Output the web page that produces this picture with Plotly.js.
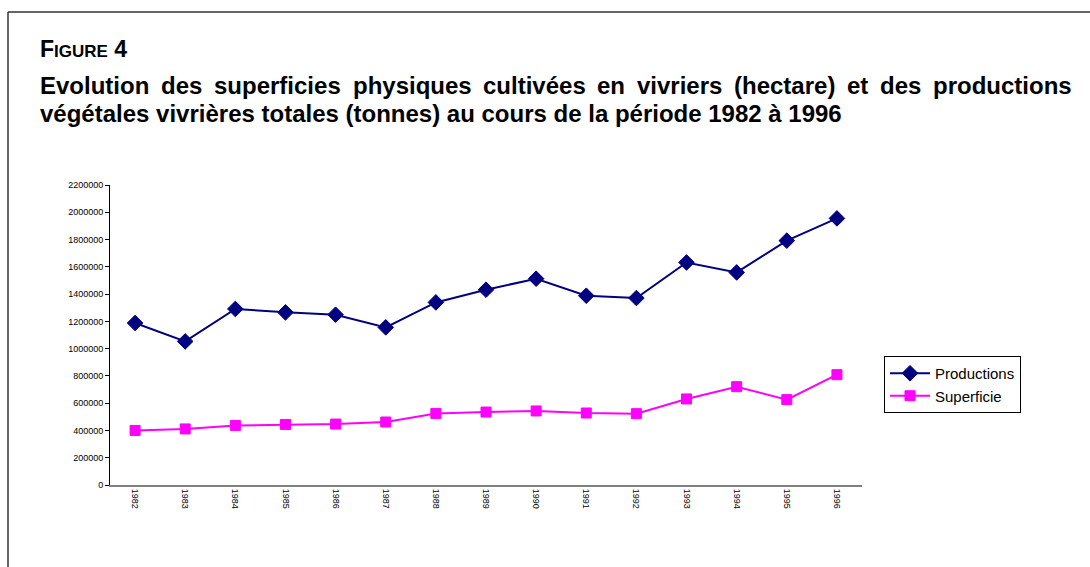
<!DOCTYPE html>
<html>
<head>
<meta charset="utf-8">
<script src="https://cdn.plot.ly/plotly-3.0.1.min.js"></script>
<style>
html,body{margin:0;padding:0;background:#fff;}
#chart{width:1090px;height:567px;}
</style>
</head>
<body>
<div id="chart"></div>
<script>
const years = ["1982","1983","1984","1985","1986","1987","1988","1989","1990","1991","1992","1993","1994","1995","1996"];
const productions = [1188000,1053000,1291000,1266000,1249000,1156000,1339000,1432000,1513000,1388000,1371000,1632000,1559000,1792000,1955000];
const superficie = [400000,411000,437000,444000,447000,462000,525000,535000,543000,528000,523000,631000,721000,626000,809000];
const yTicks = [0,200000,400000,600000,800000,1000000,1200000,1400000,1600000,1800000,2000000,2200000];
const titleLine1 = "Evolution des superficies physiques cultivées en vivriers (hectare) et des productions";
const titleLine2 = "végétales vivrières totales (tonnes) au cours de la période 1982 à 1996";

const W = 1090, H = 567;
const L = 110, R = 862, T = 185, B = 485;
const px2x = p => (p - L) / (R - L);
const px2y = p => (B - p) / (B - T);

const FONT = "Liberation Sans, Arial, sans-serif";
const TSIZE = 24;

// justify first title line between two pixel edges
const ctx = document.createElement("canvas").getContext("2d");
ctx.font = "bold " + TSIZE + "px 'Liberation Sans', Arial, sans-serif";
const words = titleLine1.split(" ");
const left = 38, right = 1070;
const widths = words.map(w => ctx.measureText(w).width);
const total = widths.reduce((a, b) => a + b, 0);
const gap = (right - left - total) / (words.length - 1);
const annotations = [];
let cx = left;
words.forEach((w, i) => {
  annotations.push({xref: "paper", yref: "paper", x: px2x(cx), y: px2y(86), xanchor: "left", yanchor: "middle",
    showarrow: false, text: "<b>" + w + "</b>", font: {family: FONT, size: TSIZE, color: "#000"}});
  cx += widths[i] + gap;
});
annotations.push({xref: "paper", yref: "paper", x: px2x(left), y: px2y(113), xanchor: "left", yanchor: "middle",
  showarrow: false, text: "<b>" + titleLine2 + "</b>", font: {family: FONT, size: TSIZE, color: "#000"}});
annotations.push({xref: "paper", yref: "paper", x: px2x(left), y: px2y(49), xanchor: "left", yanchor: "middle",
  showarrow: false, text: "<b>F<span style='font-size:17px'>IGURE</span> 4</b>", font: {family: FONT, size: 23, color: "#000"}});

const traces = [
  {
    x: years, y: productions, name: "Productions", type: "scatter", mode: "lines+markers",
    line: {color: "#000080", width: 2},
    marker: {symbol: "diamond", size: 12, color: "#000080", line: {color: "#000080", width: 1}}
  },
  {
    x: years, y: superficie, name: "Superficie", type: "scatter", mode: "lines+markers",
    line: {color: "#FF00FF", width: 2},
    marker: {symbol: "square", size: 10, color: "#FF00FF", line: {color: "#FF00FF", width: 1}}
  }
];

const layout = {
  width: W, height: H,
  margin: {l: L, r: W - R, t: T, b: H - B, pad: 0},
  paper_bgcolor: "#fff", plot_bgcolor: "#fff",
  showlegend: true,
  font: {family: FONT, color: "#000"},
  xaxis: {
    type: "category", range: [-0.5, 14.5], tickangle: 90,
    showline: true, linecolor: "#808080", linewidth: 2,
    ticks: "", showgrid: false, zeroline: false,
    tickfont: {family: FONT, size: 9, color: "#000"}
  },
  yaxis: {
    range: [0, 2200000], tickvals: yTicks, ticktext: yTicks.map(String),
    showline: true, linecolor: "#000", linewidth: 1,
    ticks: "outside", ticklen: 4, tickcolor: "#000",
    showgrid: false, zeroline: false,
    tickfont: {family: FONT, size: 9, color: "#000"}
  },
  legend: {
    x: px2x(884), y: px2y(356), xanchor: "left", yanchor: "top",
    bordercolor: "#000", borderwidth: 1, bgcolor: "#fff",
    font: {family: FONT, size: 15, color: "#000"},
    tracegroupgap: 0, itemwidth: 40
  },
  shapes: [
    {type: "line", xref: "paper", yref: "paper", x0: px2x(8), x1: px2x(1095), y0: px2y(12), y1: px2y(12), line: {color: "#333", width: 1.5}},
    {type: "line", xref: "paper", yref: "paper", x0: px2x(8), x1: px2x(8), y0: px2y(12), y1: px2y(575), line: {color: "#333", width: 1.5}}
  ],
  annotations: annotations
};

Plotly.newPlot("chart", traces, layout, {staticPlot: true, displayModeBar: false});
</script>
</body>
</html>
